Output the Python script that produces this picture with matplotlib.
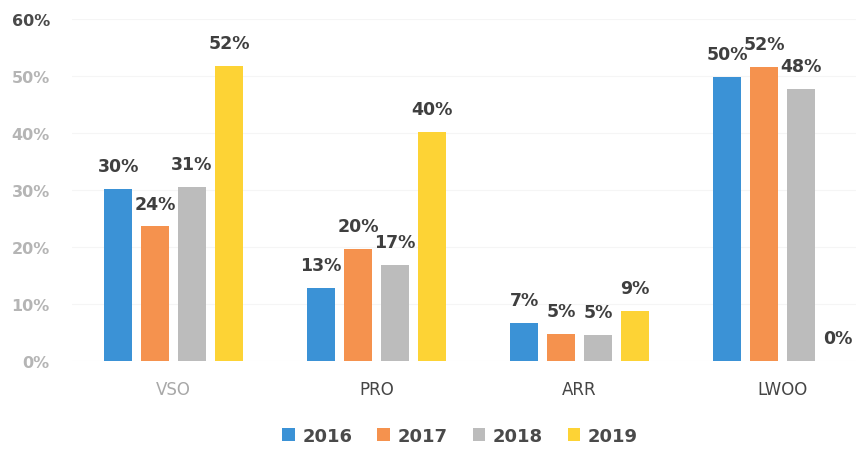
import numpy as np
import matplotlib.pyplot as plt

# data (percent)
categories = ["VSO", "PRO", "ARR", "LWOO"]
years = ["2016", "2017", "2018", "2019"]
v2016 = [30.2, 12.8, 6.6, 49.8]
v2017 = [23.6, 19.6, 4.8, 51.6]
v2018 = [30.6, 16.9, 4.6, 47.8]
v2019 = [51.8, 40.2, 8.8, 0.0]
colors = ["#3b92d6", "#f5924e", "#bcbcbc", "#fdd335"]

fig = plt.figure(figsize=(8.56, 4.56), dpi=100)
ax = fig.add_axes([72 / 856, (456 - 362) / 456, 784 / 856, 342 / 456])

x = np.arange(len(categories))
pitch = 0.182
width = 0.138
series = [v2016, v2017, v2018, v2019]
for i, vals in enumerate(series):
    bars = ax.bar(x + (i - 1.5) * pitch, vals, width, color=colors[i], label=years[i], zorder=2)
    ax.bar_label(bars, labels=["{:.0f}%".format(v) for v in vals], padding=10,
                 fontsize=12.5, fontweight="bold", color="#3f3f3f")

ax.set_xlim(-0.5, -0.5 + 784 / 203)
ax.set_ylim(0, 60)
ax.set_yticks(range(0, 61, 10))
ax.set_yticklabels(["{}%".format(t) for t in range(0, 61, 10)])
ax.set_xticks(x)
ax.set_xticklabels(categories)

for s in ax.spines.values():
    s.set_visible(False)
ax.grid(axis="y", color="#f5f5f5", linewidth=0.8, zorder=0)
ax.tick_params(axis="both", length=0)
ax.tick_params(axis="y", pad=16, labelsize=11.5, labelcolor="#b5b5b5")
ax.tick_params(axis="x", pad=14, labelsize=12)

for lab in ax.get_yticklabels():
    lab.set_fontweight("bold")
ax.get_yticklabels()[-1].set_color("#4a4a4a")
xl = ax.get_xticklabels()
for i, lab in enumerate(xl):
    lab.set_color("#a8a8a8" if i == 0 else "#454545")

fig.legend(loc="center", bbox_to_anchor=(460 / 856, 1 - 437 / 456), ncol=4, frameon=False,
           handlelength=0.7, handleheight=0.7, handletextpad=0.4, columnspacing=1.4,
           prop={"size": 13, "weight": "bold"}, labelcolor="#4a4a4a")

fig.savefig("out.png", dpi=100, facecolor="white")
